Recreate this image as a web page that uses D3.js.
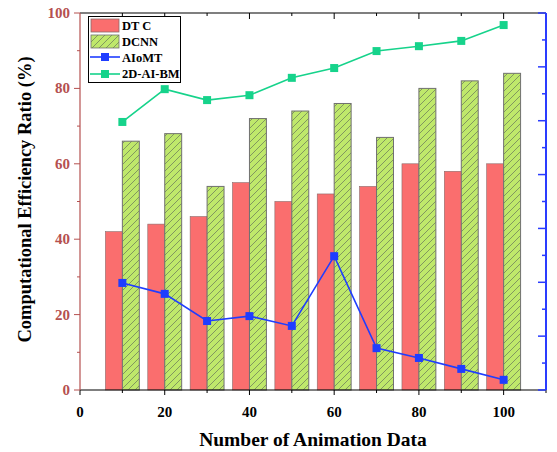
<!DOCTYPE html>
<html>
<head>
<meta charset="utf-8">
<script src="https://cdn.jsdelivr.net/npm/d3@7"></script>
<style>
  html, body { margin: 0; padding: 0; background: #fff; }
  svg text { font-family: "Liberation Serif", "Times New Roman", serif; font-weight: bold; }
</style>
</head>
<body>
<svg id="chart" width="557" height="452"></svg>
<script>
// Data
const xValues   = [10, 20, 30, 40, 50, 60, 70, 80, 90, 100];
const dtc       = [42, 44, 46, 55, 50, 52, 54, 60, 58, 60];
const dcnn      = [66, 68, 54, 72, 74, 76, 67, 80, 82, 84];
const aiomt     = [28.4, 25.5, 18.3, 19.6, 17.0, 35.5, 11.1, 8.5, 5.6, 2.7];
const aiBm      = [71.1, 79.8, 76.9, 78.2, 82.8, 85.4, 89.9, 91.2, 92.6, 96.8];
const xTicks    = [0, 20, 40, 60, 80, 100];
const yTicks    = [0, 20, 40, 60, 80, 100];
const seriesNames = ["DT C", "DCNN", "AIoMT", "2D-AI-BM"];

const colors = {
  dtc: "#fa6e6e",
  dcnn: "#bfe86b",
  aiomt: "#1f3dff",
  aiBm: "#16d38b",
  leftAxis: "#b5504f",
  rightAxis: "#2a3cff"
};

const svg = d3.select("#chart");
const margin = { left: 80, right: 11, top: 13, bottom: 62 };
const W = 557, H = 452;

const x = d3.scaleLinear().domain([0, 110]).range([margin.left, W - margin.right]);
const y = d3.scaleLinear().domain([0, 100]).range([H - margin.bottom, margin.top]);
const yRight = d3.scaleLinear().domain([0, 7]).range([H - margin.bottom, margin.top]);

// Hatch pattern for DCNN bars
const defs = svg.append("defs");
const pat = defs.append("pattern")
  .attr("id", "hatch")
  .attr("patternUnits", "userSpaceOnUse")
  .attr("width", 7).attr("height", 7);
pat.append("rect").attr("width", 7).attr("height", 7).attr("fill", colors.dcnn);
pat.append("path")
  .attr("d", "M-2,2 L2,-2 M0,7 L7,0 M5,9 L9,5")
  .attr("stroke", "#66745a").attr("stroke-width", 0.7);

const barW = 4; // in data units
const bars = svg.append("g");
bars.selectAll(".dtc").data(xValues).join("rect")
  .attr("x", (d) => x(d - barW))
  .attr("width", x(barW) - x(0))
  .attr("y", (d, i) => y(dtc[i]))
  .attr("height", (d, i) => y(0) - y(dtc[i]))
  .attr("fill", colors.dtc)
  .attr("stroke", "#8a6a6a").attr("stroke-width", 0.6);

bars.selectAll(".dcnn").data(xValues).join("rect")
  .attr("x", (d) => x(d))
  .attr("width", x(barW) - x(0))
  .attr("y", (d, i) => y(dcnn[i]))
  .attr("height", (d, i) => y(0) - y(dcnn[i]))
  .attr("fill", "url(#hatch)")
  .attr("stroke", "#707070").attr("stroke-width", 1);

// Lines
function drawLine(vals, color) {
  const pts = xValues.map((d, i) => [x(d), y(vals[i])]);
  svg.append("path")
    .attr("d", d3.line()(pts))
    .attr("fill", "none")
    .attr("stroke", color)
    .attr("stroke-width", 1.6);
  svg.append("g").selectAll("rect").data(pts).join("rect")
    .attr("x", (p) => p[0] - 4).attr("y", (p) => p[1] - 4)
    .attr("width", 8).attr("height", 8)
    .attr("fill", color);
}
drawLine(aiomt, colors.aiomt);
drawLine(aiBm, colors.aiBm);

// Axes
const axBottom = svg.append("g").attr("transform", `translate(0,${y(0)})`);
axBottom.append("line").attr("x1", x(0)).attr("x2", x(110)).attr("stroke", "#000").attr("stroke-width", 1.2);
axBottom.selectAll(".tk").data(d3.range(0, 111, 10)).join("line")
  .attr("x1", (d) => x(d)).attr("x2", (d) => x(d))
  .attr("y1", 0).attr("y2", (d) => d % 20 === 0 ? 5 : 3)
  .attr("stroke", "#000").attr("stroke-width", 1);
axBottom.selectAll("text").data(xTicks).join("text")
  .attr("x", (d) => x(d)).attr("y", 27)
  .attr("text-anchor", "middle")
  .attr("font-size", 15)
  .attr("fill", "#000")
  .text((d) => d);

const axTop = svg.append("g").attr("transform", `translate(0,${y(100)})`);
axTop.append("line").attr("x1", x(0)).attr("x2", x(110)).attr("stroke", "#000").attr("stroke-width", 1.2);
axTop.selectAll(".tk").data(d3.range(10, 110, 10)).join("line")
  .attr("x1", (d) => x(d)).attr("x2", (d) => x(d))
  .attr("y1", 0).attr("y2", (d) => d % 20 === 0 ? 6 : 3)
  .attr("stroke", "#000").attr("stroke-width", 1);

const axLeft = svg.append("g").attr("transform", `translate(${x(0)},0)`);
axLeft.append("line").attr("y1", y(0)).attr("y2", y(100)).attr("stroke", colors.leftAxis).attr("stroke-width", 1.2);
axLeft.selectAll(".tk").data(d3.range(0, 101, 10)).join("line")
  .attr("y1", (d) => y(d)).attr("y2", (d) => y(d))
  .attr("x1", 0).attr("x2", (d) => d % 20 === 0 ? -6 : -3)
  .attr("stroke", colors.leftAxis).attr("stroke-width", 1);
axLeft.selectAll("text").data(yTicks).join("text")
  .attr("x", -10).attr("y", (d) => y(d) + 5)
  .attr("text-anchor", "end")
  .attr("font-size", 15)
  .attr("fill", colors.leftAxis)
  .text((d) => d);

const axRight = svg.append("g").attr("transform", `translate(${x(110)},0)`);
axRight.append("line").attr("y1", yRight(0)).attr("y2", yRight(7)).attr("stroke", colors.rightAxis).attr("stroke-width", 2);
axRight.selectAll(".tk").data(d3.range(0, 7.01, 0.5)).join("line")
  .attr("y1", (d) => yRight(d)).attr("y2", (d) => yRight(d))
  .attr("x1", 0).attr("x2", (d) => Number.isInteger(d) ? -8 : -4)
  .attr("stroke", colors.rightAxis).attr("stroke-width", 1.5);

// Axis titles
svg.append("text")
  .attr("x", (x(0) + x(110)) / 2).attr("y", 446)
  .attr("text-anchor", "middle").attr("font-size", 19.5).attr("fill", "#000")
  .text("Number of Animation Data");
svg.append("text")
  .attr("transform", `translate(31,${(y(0) + y(100)) / 2 - 2}) rotate(-90)`)
  .attr("text-anchor", "middle").attr("font-size", 18.5).attr("fill", "#000")
  .text("Computational Efficiency Ratio (%)");

// Legend
const lg = svg.append("g");
lg.append("rect").attr("x", 88.5).attr("y", 16.5).attr("width", 92).attr("height", 66)
  .attr("fill", "#fff").attr("stroke", "#000").attr("stroke-width", 1);
lg.append("rect").attr("x", 91).attr("y", 19).attr("width", 28).attr("height", 13)
  .attr("fill", colors.dtc).attr("stroke", "#8a6a6a").attr("stroke-width", 0.8);
lg.append("rect").attr("x", 91).attr("y", 35).attr("width", 28).attr("height", 13)
  .attr("fill", "url(#hatch)").attr("stroke", "#707070").attr("stroke-width", 0.8);
[[57, colors.aiomt], [74, colors.aiBm]].forEach(([ly, c]) => {
  lg.append("line").attr("x1", 90).attr("x2", 120).attr("y1", ly).attr("y2", ly)
    .attr("stroke", c).attr("stroke-width", 1.6);
  lg.append("rect").attr("x", 101).attr("y", ly - 4).attr("width", 8).attr("height", 8).attr("fill", c);
});
lg.selectAll("text").data(seriesNames).join("text")
  .attr("x", 122).attr("y", (d, i) => [30, 46, 62, 78][i])
  .attr("font-size", 12.5).attr("fill", "#000")
  .text((d) => d);
</script>
</body>
</html>
